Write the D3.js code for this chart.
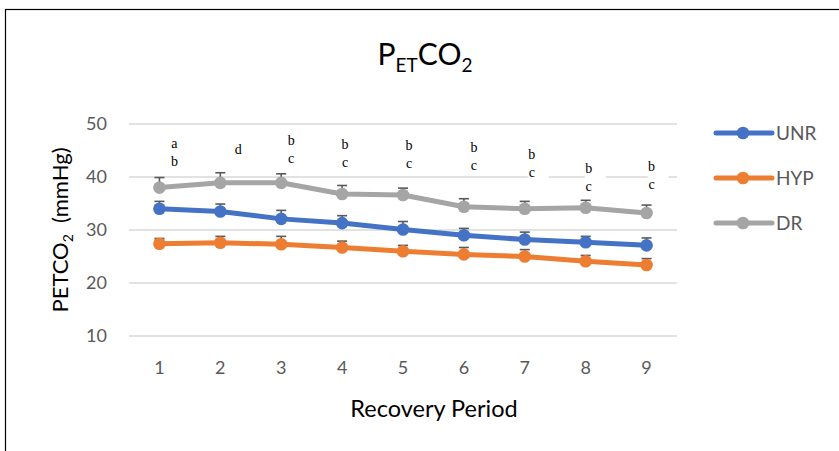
<!DOCTYPE html>
<html>
<head>
<meta charset="utf-8">
<script src="https://cdn.jsdelivr.net/npm/d3@7"></script>
<style>
  body { margin: 0; background: #fff; }
  svg { display: block; }
</style>
</head>
<body>
<svg id="chart"></svg>
<script>
// values
const periods = ['1', '2', '3', '4', '5', '6', '7', '8', '9'];
const unr = [34.0, 33.5, 32.1, 31.3, 30.1, 29.0, 28.2, 27.7, 27.1];
const hyp = [27.4, 27.6, 27.3, 26.7, 26.0, 25.4, 25.0, 24.1, 23.4];
const dr = [38.0, 38.9, 38.9, 36.8, 36.6, 34.4, 34.0, 34.2, 33.2];
const unrErr = [1.4, 1.4, 1.6, 1.4, 1.5, 1.3, 1.4, 1.1, 1.4];
const hypErr = [1.0, 1.2, 1.5, 1.2, 1.1, 1.3, 1.3, 1.1, 1.2];
const drErr = [1.9, 1.9, 1.7, 1.6, 1.3, 1.5, 1.4, 1.4, 1.5];
const yTicks = [10, 20, 30, 40, 50];

// significance letters above each period, and the level (mmHg) of the first line
const sigLetters = [['a', 'b'], ['d'], ['b', 'c'], ['b', 'c'], ['b', 'c'], ['b', 'c'], ['b', 'c'], ['b', 'c'], ['b', 'c']];
const sigLevel = [46.4, 45.3, 47.0, 46.2, 46.0, 45.6, 44.3, 41.7, 42.1];
const sigNudge = [15, 18, 10, 3, 6, 10, 7, 3, 5]; // px right of the point

const W = 839, H = 451;
const plot = {left: 129, right: 677, top: 124, bottom: 336};

const svg = d3.select('#chart')
.attr('width', W)
.attr('height', H);

svg.append('rect')
.attr('x', 5.5).attr('y', 9.5)
.attr('width', 900).attr('height', 600)
.attr('fill', '#fff')
.attr('stroke', '#000')
.attr('stroke-width', 1.2);

const x = d3.scaleBand()
.domain(periods)
.range([plot.left, plot.right]);

const y = d3.scaleLinear()
.domain([10, 50])
.range([plot.bottom, plot.top]);

const cx = p => x(p) + x.bandwidth() / 2;

// gridlines
svg.append('g')
.selectAll('line')
.data(yTicks)
.join('line')
.attr('x1', plot.left).attr('x2', plot.right)
.attr('y1', d => y(d)).attr('y2', d => y(d))
.attr('stroke', '#d9d9d9')
.attr('stroke-width', 1.3);

// y axis (labels only)
const yAxis = svg.append('g')
.attr('transform', `translate(${plot.left}, 0)`)
.call(d3.axisLeft(y).tickValues(yTicks).tickSize(0).tickPadding(22));
yAxis.select('.domain').remove();
yAxis.selectAll('text')
.style('font-family', 'Lato, sans-serif')
.style('font-size', '18px')
.style('fill', '#595959');

// x axis (labels only)
const xAxis = svg.append('g')
.attr('transform', `translate(0, ${plot.bottom})`)
.call(d3.axisBottom(x).tickSize(0).tickPadding(25));
xAxis.select('.domain').remove();
xAxis.selectAll('text')
.style('font-family', 'Lato, sans-serif')
.style('font-size', '18px')
.style('fill', '#595959');

// title P_ET CO_2
const title = svg.append('text')
.attr('x', 425).attr('y', 65)
.attr('text-anchor', 'middle')
.style('font-family', 'Lato, sans-serif')
.style('font-size', '30px')
.style('fill', '#000');
title.append('tspan').text('P');
title.append('tspan').attr('dy', 7).style('font-size', '19px').text('ET');
title.append('tspan').attr('dy', -7).text('CO');
title.append('tspan').attr('dy', 7).style('font-size', '19px').text('2');

// axis titles
svg.append('text')
.attr('x', 434).attr('y', 417)
.attr('text-anchor', 'middle')
.style('font-family', 'Lato, sans-serif')
.style('font-size', '23.5px')
.style('fill', '#000')
.text('Recovery Period');

const yTitle = svg.append('text')
.attr('transform', 'translate(68, 230) rotate(-90)')
.attr('text-anchor', 'middle')
.style('font-family', 'Lato, sans-serif')
.style('font-size', '22px')
.style('fill', '#000');
yTitle.append('tspan').text('PETCO');
yTitle.append('tspan').attr('dy', 5).style('font-size', '14px').text('2');
yTitle.append('tspan').attr('dy', -5).text('\u00a0\u00a0(mmHg)');

const series = [
  {label: 'UNR', values: unr, err: unrErr, color: '#4472c4'},
  {label: 'HYP', values: hyp, err: hypErr, color: '#ed7d31'},
  {label: 'DR', values: dr, err: drErr, color: '#a5a5a5'}
];

series.forEach(s => {
  const rows = periods.map((p, i) => ({p, v: s.values[i], e: s.err[i]}));
  const g = svg.append('g');

  g.append('path')
  .datum(rows)
  .attr('fill', 'none')
  .attr('stroke', s.color)
  .attr('stroke-width', 5)
  .attr('stroke-linejoin', 'round')
  .attr('d', d3.line().x(d => cx(d.p)).y(d => y(d.v)));

  // plus-direction error bars with a cap
  const eb = g.selectAll('.err')
  .data(rows)
  .join('g')
  .attr('stroke', '#595959')
  .attr('stroke-width', 1.6);
  eb.append('line')
  .attr('x1', d => cx(d.p)).attr('x2', d => cx(d.p))
  .attr('y1', d => y(d.v + d.e)).attr('y2', d => y(d.v));
  eb.append('line')
  .attr('x1', d => cx(d.p) - 5).attr('x2', d => cx(d.p) + 5)
  .attr('y1', d => y(d.v + d.e)).attr('y2', d => y(d.v + d.e));

  g.selectAll('circle')
  .data(rows)
  .join('circle')
  .attr('cx', d => cx(d.p))
  .attr('cy', d => y(d.v))
  .attr('r', 6.3)
  .attr('fill', s.color);
});

// significance letters with white boxes (they hide the gridline)
periods.forEach((p, i) => {
  const lx = cx(p) + sigNudge[i];
  const ly = y(sigLevel[i]);
  const n = sigLetters[i].length;
  svg.append('rect')
  .attr('x', lx - 4).attr('y', ly - 9)
  .attr('width', 21).attr('height', 18 * (n - 1) + 17)
  .attr('fill', '#fff');
  sigLetters[i].forEach((t, k) => {
    svg.append('text')
    .attr('x', lx).attr('y', ly + k * 18)
    .attr('dy', '0.35em')
    .attr('text-anchor', 'middle')
    .style('font-family', '"Liberation Serif", "Times New Roman", serif')
    .style('font-size', '14px')
    .style('fill', '#000')
    .text(t);
  });
});

// legend
series.forEach((s, i) => {
  const ly = 133 + i * 45;
  svg.append('line')
  .attr('x1', 716).attr('x2', 772)
  .attr('y1', ly).attr('y2', ly)
  .attr('stroke', s.color).attr('stroke-width', 5)
  .attr('stroke-linecap', 'round');
  svg.append('circle')
  .attr('cx', 743).attr('cy', ly).attr('r', 6.3)
  .attr('fill', s.color);
  svg.append('text')
  .attr('x', 776).attr('y', ly)
  .attr('dy', '0.35em')
  .style('font-family', 'Lato, sans-serif')
  .style('font-size', '19px')
  .style('fill', '#595959')
  .text(s.label);
});
</script>
</body>
</html>
